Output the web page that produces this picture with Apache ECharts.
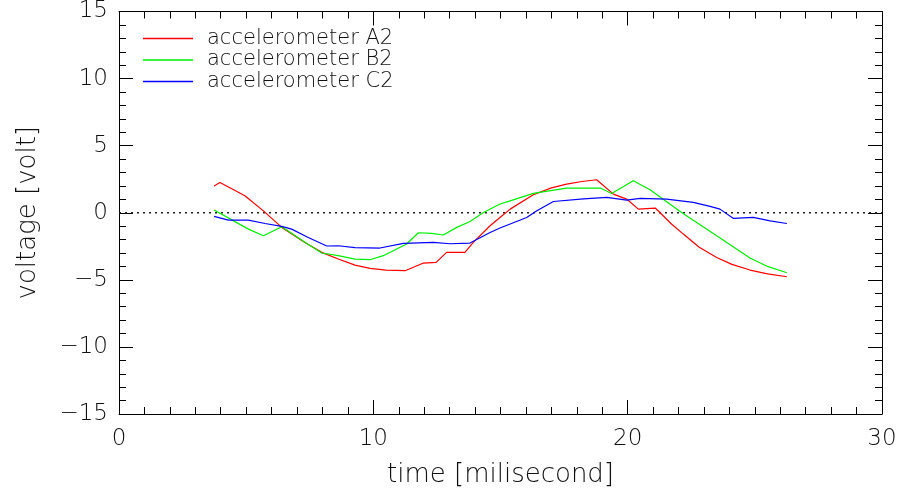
<!DOCTYPE html>
<html>
<head>
<meta charset="utf-8">
<script src="https://cdn.jsdelivr.net/npm/echarts@6/dist/echarts.min.js"></script>
<style>
  html, body { margin: 0; padding: 0; background: #fff; }
  #main { width: 901px; height: 496px; }
</style>
</head>
<body>
<div id="main"></div>
<script>
// accelerometer A2 (red)
const timeA2 = [3.74, 3.97, 4.95, 5.7, 6.4, 7.31, 7.97, 8.62, 9.28, 9.87, 10.5, 11.25, 11.97, 12.47, 12.88, 13.6, 13.93, 14.59, 14.98, 15.38, 16.29, 17.0, 17.6, 18.2, 18.78, 19.44, 19.96, 20.42, 21.08, 21.27, 21.7, 22.19, 22.8, 23.5, 24.1, 24.81, 25.5, 26.26]
const voltA2 = [2.0, 2.26, 1.27, 0.1, -1.09, -2.21, -2.95, -3.45, -3.9, -4.15, -4.27, -4.32, -3.75, -3.7, -2.95, -2.95, -2.21, -0.97, -0.35, 0.27, 1.34, 1.85, 2.13, 2.33, 2.46, 1.39, 1.02, 0.27, 0.35, 0.02, -0.8, -1.59, -2.55, -3.33, -3.85, -4.27, -4.55, -4.77]
// accelerometer B2 (green)
const timeB2 = [3.74, 5.09, 5.68, 6.4, 7.31, 7.97, 8.62, 9.28, 9.87, 10.39, 11.31, 11.77, 12.3, 12.75, 13.28, 13.8, 14.33, 14.98, 15.38, 16.29, 17.6, 18.92, 19.37, 20.22, 20.88, 22.12, 23.5, 24.81, 25.5, 26.26]
const voltB2 = [0.2, -1.22, -1.71, -1.04, -2.2, -3.0, -3.2, -3.45, -3.5, -3.2, -2.33, -1.49, -1.54, -1.66, -1.09, -0.65, 0.02, 0.65, 0.89, 1.44, 1.84, 1.84, 1.44, 2.38, 1.71, 0.02, -1.71, -3.37, -4.0, -4.47]
// accelerometer C2 (blue)
const timeC2 = [3.74, 4.3, 5.09, 5.74, 6.4, 6.79, 7.44, 8.17, 8.62, 9.28, 10.26, 11.18, 12.36, 13.02, 13.8, 14.59, 14.98, 15.38, 16.03, 16.43, 17.08, 18.26, 19.18, 19.96, 20.49, 21.53, 22.58, 23.24, 23.63, 24.16, 24.94, 25.6, 26.26]
const voltC2 = [-0.27, -0.55, -0.55, -0.8, -1.02, -1.22, -1.84, -2.48, -2.46, -2.6, -2.63, -2.28, -2.21, -2.31, -2.26, -1.47, -1.14, -0.84, -0.35, 0.15, 0.84, 1.04, 1.14, 0.94, 1.07, 1.02, 0.77, 0.47, 0.27, -0.42, -0.35, -0.6, -0.8]
// zero reference
const zeroTime = [0, 30]
const zeroVolt = [0, 0]

const seriesNames = ['accelerometer A2', 'accelerometer B2', 'accelerometer C2']
const seriesColors = ['#ff0000', '#00ee00', '#0000ff']

function pairs(xs, ys) {
  return xs.map((x, i) => [x, ys[i]])
}

function curve(i, xs, ys) {
  return {
    name: seriesNames[i], type: 'line', data: pairs(xs, ys), symbol: 'none',
    itemStyle: { color: seriesColors[i] },
    lineStyle: { color: seriesColors[i], width: 1.2 }
  }
}

const fontFam = "'DejaVu Sans', sans-serif"
const tickLine = { color: '#000', width: 1 }

function axisBase(extra) {
  return Object.assign({
    type: 'value',
    axisLine: { show: true, onZero: false, lineStyle: tickLine },
    axisTick: { show: true, inside: true, length: 14, lineStyle: tickLine },
    splitLine: { show: false },
    minorSplitLine: { show: false }
  }, extra)
}

const chart = echarts.init(document.getElementById('main'))
chart.setOption({
  animation: false,
  backgroundColor: '#fff',
  grid: { left: 119, right: 19, top: 11, bottom: 82 },
  legend: {
    data: seriesNames,
    orient: 'vertical',
    left: 138,
    top: 23,
    icon: 'rect',
    itemWidth: 50,
    itemHeight: 1.5,
    itemGap: 0.5,
    textStyle: { fontFamily: fontFam, fontSize: 21, fontWeight: 200, color: '#111', padding: [0, 0, 14, 9] }
  },
  xAxis: [
    axisBase({
      position: 'bottom', min: 0, max: 30, interval: 10,
      minorTick: { show: true, splitNumber: 10, length: 7, lineStyle: tickLine },
      name: 'time [milisecond]', nameLocation: 'middle', nameGap: 48,
      nameTextStyle: { fontFamily: fontFam, fontSize: 26, fontWeight: 200, color: '#111' },
      axisLabel: { show: true, margin: 14, fontFamily: fontFam, fontSize: 23, fontWeight: 200, color: '#111', showMinLabel: true, showMaxLabel: true }
    }),
    axisBase({
      position: 'top', min: 0, max: 30, interval: 10,
      minorTick: { show: true, splitNumber: 10, length: 7, lineStyle: tickLine },
      axisLabel: { show: false }
    })
  ],
  yAxis: [
    axisBase({
      position: 'left', min: -15, max: 15, interval: 5,
      minorTick: { show: true, splitNumber: 5, length: 7, lineStyle: tickLine },
      name: 'voltage [volt]', nameLocation: 'middle', nameGap: 78,
      nameTextStyle: { fontFamily: fontFam, fontSize: 26, fontWeight: 200, color: '#111' },
      axisLabel: { show: true, margin: 11, fontFamily: fontFam, fontSize: 23, fontWeight: 200, color: '#111', showMinLabel: true, showMaxLabel: true,
        formatter: v => (v < 0 ? '\u2212' + Math.abs(v) : String(v)) }
    }),
    axisBase({
      position: 'right', min: -15, max: 15, interval: 5,
      minorTick: { show: true, splitNumber: 5, length: 7, lineStyle: tickLine },
      axisLabel: { show: false }
    })
  ],
  series: [
    {
      name: 'zero', type: 'line', data: pairs(zeroTime, zeroVolt), symbol: 'none', silent: true,
      lineStyle: { color: '#222', width: 1.3, type: [2, 4] }
    },
    curve(0, timeA2, voltA2),
    curve(1, timeB2, voltB2),
    curve(2, timeC2, voltC2)
  ]
})
</script>
</body>
</html>
